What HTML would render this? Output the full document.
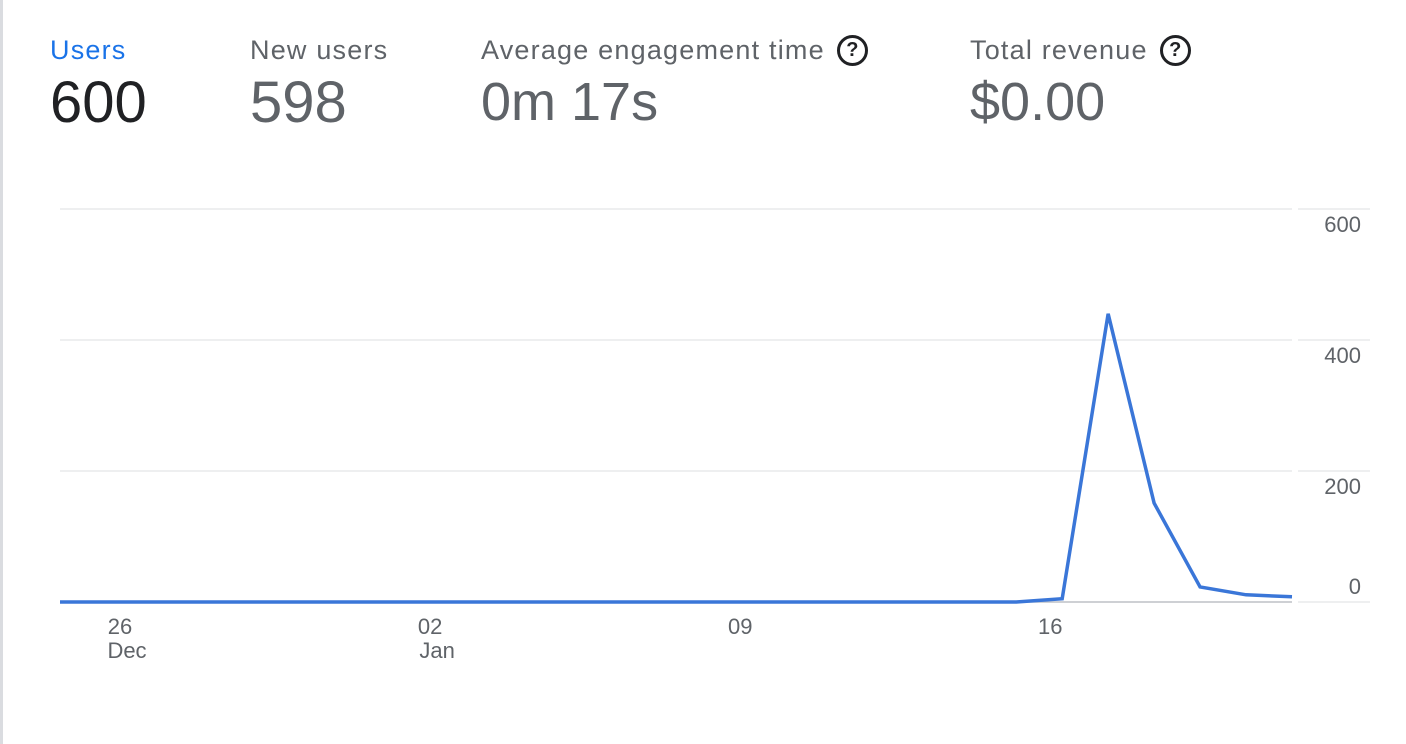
<!DOCTYPE html>
<html><head><meta charset="utf-8"><style>
body{margin:0;width:1406px;height:744px;background:#fff;font-family:"Liberation Sans",sans-serif;overflow:hidden;position:relative}
.bar{position:absolute;left:0;top:0;width:3px;height:744px;background:#dadce0}
.m{position:absolute;top:33px}
.lab{font-size:27px;letter-spacing:1.2px;color:#5f6368;white-space:nowrap;display:flex;align-items:center;height:34px}
.val{font-size:54px;color:#5f6368;margin-top:4px;white-space:nowrap}
.q{display:inline-block;width:31px;height:31px;border:3px solid #202124;border-radius:50%;box-sizing:border-box;font-size:20px;font-weight:bold;color:#202124;text-align:center;line-height:25px;margin-left:12px;letter-spacing:0}
</style></head><body>
<div class="bar"></div>
<div class="m" style="left:50px"><div class="lab" style="color:#1a73e8">Users</div><div class="val" style="color:#202124;font-size:58px;margin-top:2px">600</div></div>
<div class="m" style="left:250px"><div class="lab">New users</div><div class="val" style="font-size:58px;margin-top:2px">598</div></div>
<div class="m" style="left:481px"><div class="lab">Average engagement time<span class="q">?</span></div><div class="val">0m 17s</div></div>
<div class="m" style="left:970px"><div class="lab">Total revenue<span class="q">?</span></div><div class="val">$0.00</div></div>
<svg id="chart" width="1406" height="744" style="position:absolute;left:0;top:0">
<defs><clipPath id="cp"><rect x="60" y="150" width="1240" height="480"/></clipPath></defs>
</svg>
<script>
const values=[0,0,0,0,0,0,0,0,0,0,0,0,0,0,0,0,0,0,0,0,0,0,5,440,151,23,11,8];
const yTicks=[0,200,400,600];
const xTickIdx=[1,8,15,22];
const xTickLabels=["26","02","09","16"];
const xTickSub=["Dec","Jan","",""];
const svg=document.getElementById('chart');
const NS='http://www.w3.org/2000/svg';
const x=i=>51+i*(1292-51)/(values.length-1);
const xl=i=>120+(i-1)*44.3;
const y=v=>602-v*(602-209)/600;
function mk(t,a){const e=document.createElementNS(NS,t);for(const k in a)e.setAttribute(k,a[k]);svg.appendChild(e);return e;}
yTicks.forEach(v=>{
 const l=mk('line',{x1:60,x2:1292,y1:y(v),y2:y(v),stroke:v===0?'#bdc1c6':'#e3e5e8','stroke-width':v===0?1.5:1.2});
 
 
 const r=mk('line',{x1:1298,x2:1370,y1:y(v),y2:y(v),stroke:'#e3e5e8','stroke-width':1.2});
 
 
 const t=mk('text',{x:1361,y:v===0?y(v)-8:y(v)+23,'text-anchor':'end','font-size':22,fill:'#5f6368','font-family':'Liberation Sans,sans-serif'});
 t.textContent=v;
 
 
});
xTickIdx.forEach((i,k)=>{
 const t=mk('text',{x:xl(i),y:634,'text-anchor':'middle','font-size':22,fill:'#5f6368','font-family':'Liberation Sans,sans-serif'});
 t.textContent=xTickLabels[k];
 
 
 if(xTickSub[k]){const s=mk('text',{x:xl(i)+7,y:658,'text-anchor':'middle','font-size':22,fill:'#5f6368','font-family':'Liberation Sans,sans-serif'});
 s.textContent=xTickSub[k];
 
 }
});
const p=mk('polyline',{points:values.map((v,i)=>x(i)+','+y(v)).join(' '),fill:'none',stroke:'#3a76d8','stroke-width':3.5,'stroke-linejoin':'miter','clip-path':'url(#cp)'});


</script>
</body></html>
